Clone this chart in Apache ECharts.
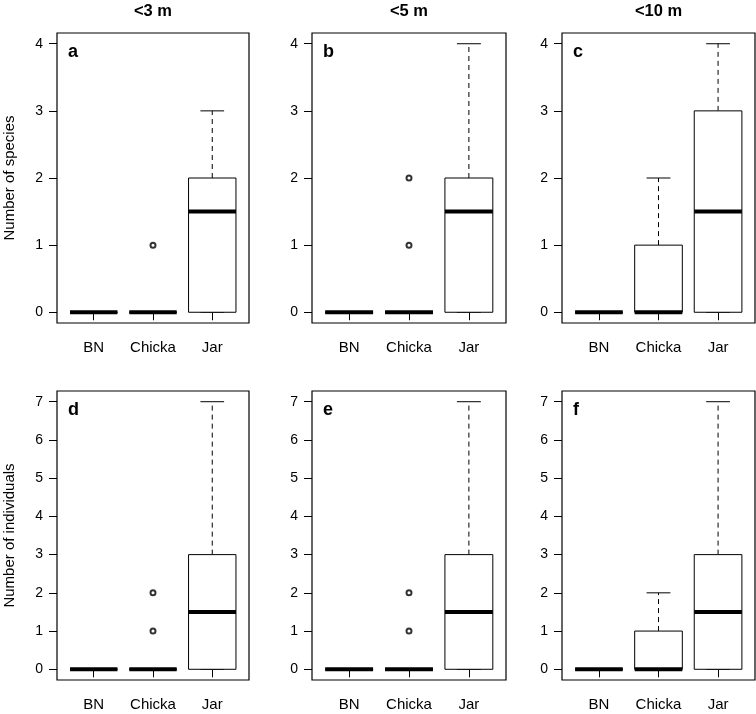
<!DOCTYPE html>
<html>
<head>
<meta charset="utf-8">
<script src="https://cdn.jsdelivr.net/npm/echarts@6/dist/echarts.min.js"></script>
<style>
html,body{margin:0;padding:0;background:#fff;}
#chart{width:756px;height:714px;}
</style>
</head>
<body>
<div id="chart"></div>
<script>
// ---------- DATA ----------
const categories = ['BN', 'Chicka', 'Jar'];
const columnTitles = ['<3 m', '<5 m', '<10 m'];
const rowTitles = ['Number of species', 'Number of individuals'];
const panelLetters = ['a', 'b', 'c', 'd', 'e', 'f'];
const speciesTicks = [0, 1, 2, 3, 4];
const individualsTicks = [0, 1, 2, 3, 4, 5, 6, 7];

// [lower whisker, Q1, median, Q3, upper whisker] for BN, Chicka, Jar
const boxesA = [[0, 0, 0, 0, 0], [0, 0, 0, 0, 0], [0, 0, 1.5, 2, 3]];
const boxesB = [[0, 0, 0, 0, 0], [0, 0, 0, 0, 0], [0, 0, 1.5, 2, 4]];
const boxesC = [[0, 0, 0, 0, 0], [0, 0, 0, 1, 2], [0, 0, 1.5, 3, 4]];
const boxesD = [[0, 0, 0, 0, 0], [0, 0, 0, 0, 0], [0, 0, 1.5, 3, 7]];
const boxesE = [[0, 0, 0, 0, 0], [0, 0, 0, 0, 0], [0, 0, 1.5, 3, 7]];
const boxesF = [[0, 0, 0, 0, 0], [0, 0, 0, 1, 2], [0, 0, 1.5, 3, 7]];

// outliers: [category, value]
const outliersA = [['Chicka', 1]];
const outliersB = [['Chicka', 1], ['Chicka', 2]];
const outliersC = [];
const outliersD = [['Chicka', 1], ['Chicka', 2]];
const outliersE = [['Chicka', 1], ['Chicka', 2]];
const outliersF = [];

// ---------- LAYOUT ----------
const FONT = '"Liberation Sans", Arial, Helvetica, sans-serif';
const colLeft = [57, 312, 562];
const colWidth = [192, 194, 193];
const rowTop = [33, 391];
const rowHeight = [290, 289];

const panels = [
  { boxes: boxesA, out: outliersA, ticks: speciesTicks },
  { boxes: boxesB, out: outliersB, ticks: speciesTicks },
  { boxes: boxesC, out: outliersC, ticks: speciesTicks },
  { boxes: boxesD, out: outliersD, ticks: individualsTicks },
  { boxes: boxesE, out: outliersE, ticks: individualsTicks },
  { boxes: boxesF, out: outliersF, ticks: individualsTicks }
];

const grids = [], xAxes = [], yAxes = [], series = [], graphics = [];
const catPos = categories.map((c, i) => i + 1);
const xPad = 0.04 * (categories.length);
const xMin = 0.5 - xPad, xMax = categories.length + 0.5 + xPad;

function boxRender(params, api) {
  const x = api.value(0);
  const lo = api.value(1), q1 = api.value(2), med = api.value(3), q3 = api.value(4), hi = api.value(5);
  const half = 0.4, staple = 0.2;
  const tl = api.coord([x - half, q3]);
  const br = api.coord([x + half, q1]);
  const stroke = { stroke: '#000', lineWidth: 1, fill: null };
  const dashed = { stroke: '#000', lineWidth: 1, lineDash: [5, 4], fill: null };
  const children = [];
  const pq3 = api.coord([x, q3]), phi = api.coord([x, hi]);
  const pq1 = api.coord([x, q1]), plo = api.coord([x, lo]);
  if (hi > q3) {
    children.push({ type: 'line', shape: { x1: pq3[0], y1: pq3[1], x2: phi[0], y2: phi[1] }, style: dashed });
  }
  if (lo < q1) {
    children.push({ type: 'line', shape: { x1: pq1[0], y1: pq1[1], x2: plo[0], y2: plo[1] }, style: dashed });
  }
  const sh1 = api.coord([x - staple, hi]), sh2 = api.coord([x + staple, hi]);
  const sl1 = api.coord([x - staple, lo]), sl2 = api.coord([x + staple, lo]);
  children.push({ type: 'line', shape: { x1: sh1[0], y1: sh1[1], x2: sh2[0], y2: sh2[1] }, style: stroke });
  children.push({ type: 'line', shape: { x1: sl1[0], y1: sl1[1], x2: sl2[0], y2: sl2[1] }, style: stroke });
  children.push({
    type: 'rect',
    shape: { x: tl[0], y: tl[1], width: br[0] - tl[0], height: br[1] - tl[1] },
    style: { stroke: '#000', lineWidth: 1, fill: '#fff' }
  });
  const m1 = api.coord([x - half, med]), m2 = api.coord([x + half, med]);
  children.push({ type: 'line', shape: { x1: m1[0], y1: m1[1], x2: m2[0], y2: m2[1] }, style: { stroke: '#000', lineWidth: 4, lineCap: 'butt' } });
  return { type: 'group', children: children };
}

panels.forEach((p, i) => {
  const r = Math.floor(i / 3), c = i % 3;
  grids.push({
    left: colLeft[c], top: rowTop[r], width: colWidth[c], height: rowHeight[r],
    show: true, borderColor: '#000', borderWidth: 1.2, backgroundColor: 'transparent'
  });
  const tMin = p.ticks[0], tMax = p.ticks[p.ticks.length - 1];
  const yPad = 0.04 * (tMax - tMin);
  xAxes.push({
    gridIndex: i, type: 'value', min: xMin, max: xMax,
    axisLine: { show: false }, splitLine: { show: false },
    axisTick: { show: true, length: 8, customValues: catPos, lineStyle: { color: '#000', width: 1 } },
    axisLabel: {
      show: true, customValues: catPos, margin: 17, fontSize: 15, color: '#000', fontFamily: FONT,
      formatter: v => categories[Math.round(v) - 1] || ''
    }
  });
  yAxes.push({
    gridIndex: i, type: 'value', min: tMin - yPad, max: tMax + yPad,
    axisLine: { show: false }, splitLine: { show: false },
    axisTick: { show: true, length: 8, customValues: p.ticks, lineStyle: { color: '#000', width: 1 } },
    axisLabel: { show: true, customValues: p.ticks, margin: 14, fontSize: 14, color: '#000', fontFamily: FONT },
    name: c === 0 ? rowTitles[r] : '',
    nameLocation: 'middle', nameGap: 40, nameRotate: 90,
    nameTextStyle: { fontSize: 15, color: '#000', fontFamily: FONT }
  });
  series.push({
    type: 'custom', xAxisIndex: i, yAxisIndex: i,
    renderItem: boxRender, silent: true, animation: false,
    data: p.boxes.map((b, k) => [catPos[k]].concat(b)),
    encode: { x: 0, y: [1, 2, 3, 4, 5] }
  });
  series.push({
    type: 'scatter', xAxisIndex: i, yAxisIndex: i, silent: true, animation: false,
    symbol: 'emptyCircle', symbolSize: 5,
    itemStyle: { color: '#000', borderColor: '#000', borderWidth: 1 },
    data: p.out.map(o => [categories.indexOf(o[0]) + 1, o[1]])
  });
  graphics.push({
    type: 'text', x: colLeft[c] + 11, y: rowTop[r] + 19,
    style: { text: panelLetters[i], font: 'bold 18px ' + FONT, fill: '#000', textAlign: 'left', textVerticalAlign: 'middle' }
  });
});

columnTitles.forEach((t, c) => {
  graphics.push({
    type: 'text', x: colLeft[c] + colWidth[c] / 2, y: 11,
    style: { text: t, font: 'bold 16.5px ' + FONT, fill: '#000', textAlign: 'center', textVerticalAlign: 'middle' }
  });
});

const chart = echarts.init(document.getElementById('chart'), null, { renderer: 'canvas' });
chart.setOption({
  backgroundColor: '#fff',
  animation: false,
  grid: grids,
  xAxis: xAxes,
  yAxis: yAxes,
  series: series,
  graphic: graphics
});
</script>
</body>
</html>
